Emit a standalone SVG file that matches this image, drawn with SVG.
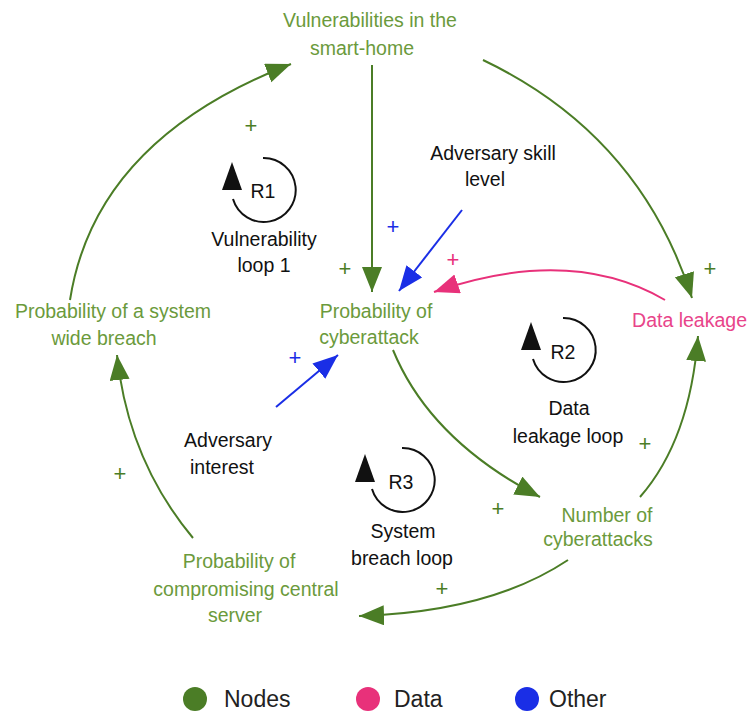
<svg xmlns="http://www.w3.org/2000/svg" width="750" height="715" viewBox="0 0 750 715">
  <style>
    text { font-family: "Liberation Sans", Arial, sans-serif; font-size: 19.5px; text-anchor: middle; }
    .node { fill: #6b9a3c; }
    .data { fill: #e8448a; text-anchor: end; }
    .lbl { fill: #111; }
    .g { fill: none; stroke: #4b7d26; stroke-width: 2; }
    .p { fill: none; stroke: #e8317a; stroke-width: 2; }
    .b { fill: none; stroke: #1a2ee6; stroke-width: 2; }
    .loop { fill: none; stroke: #111; stroke-width: 2; }
    .plus { font-size: 22px; }
    .pg { fill: #4b7d26; }
    .legend { font-size: 23px; text-anchor: start; fill: #222; }
  </style>
  <defs>
    <marker id="ag" markerUnits="userSpaceOnUse" markerWidth="28" markerHeight="22" refX="25" refY="10" orient="auto">
      <path d="M0,0 L25,10 L0,20 Z" fill="#4b7d26"/>
    </marker>
    <marker id="ap" markerUnits="userSpaceOnUse" markerWidth="28" markerHeight="22" refX="25" refY="10" orient="auto">
      <path d="M0,0 L25,10 L0,20 Z" fill="#e8317a"/>
    </marker>
    <marker id="ab" markerUnits="userSpaceOnUse" markerWidth="28" markerHeight="22" refX="25" refY="10" orient="auto">
      <path d="M0,0 L25,10 L0,20 Z" fill="#1a2ee6"/>
    </marker>
  </defs>

  <rect width="750" height="715" fill="#fff"/>

  <!-- connectors -->
  <g id="connectors">
    <path class="g" d="M372,65 L372,292" marker-end="url(#ag)"/>
    <path class="g" d="M483,60 Q640,135 692,298" marker-end="url(#ag)"/>
    <path class="b" d="M462,210 L399,291" marker-end="url(#ab)"/>
    <path class="p" d="M665,300 Q570,245 434,292" marker-end="url(#ap)"/>
    <path class="b" d="M276,407 L338,355" marker-end="url(#ab)"/>
    <path class="g" d="M393,350 Q430,440 540,497" marker-end="url(#ag)"/>
    <path class="g" d="M640,497 Q690,440 698,336" marker-end="url(#ag)"/>
    <path class="g" d="M568,560 Q490,612 359,616" marker-end="url(#ag)"/>
    <path class="g" d="M193,538 Q128,460 117,355" marker-end="url(#ag)"/>
    <path class="g" d="M70,300 Q95,140 291,64" marker-end="url(#ag)"/>
  </g>

  <!-- polarity signs -->
  <g id="signs">
    <text class="plus pg" x="251" y="133">+</text>
    <text class="plus pg" x="345" y="276">+</text>
    <text class="plus pg" x="710" y="276">+</text>
    <text class="plus pg" x="645" y="451">+</text>
    <text class="plus pg" x="498" y="516">+</text>
    <text class="plus pg" x="442" y="596">+</text>
    <text class="plus pg" x="120" y="481">+</text>
    <text class="plus" x="393" y="234" fill="#1a2ee6">+</text>
    <text class="plus" x="295" y="365" fill="#1a2ee6">+</text>
    <text class="plus" x="453" y="267" fill="#e8317a">+</text>
  </g>

  <!-- nodes -->
  <g id="vulnerabilities">
    <text class="node" x="370" y="27">Vulnerabilities in the</text>
    <text class="node" x="362" y="55">smart-home</text>
  </g>
  <g id="system-breach">
    <text class="node" x="113" y="318">Probability of a system</text>
    <text class="node" x="104" y="345">wide breach</text>
  </g>
  <g id="cyberattack">
    <text class="node" x="376" y="318">Probability of</text>
    <text class="node" x="369" y="344">cyberattack</text>
  </g>
  <g id="data-leakage">
    <text class="data" x="747" y="327">Data leakage</text>
  </g>
  <g id="num-attacks">
    <text class="node" x="607" y="522">Number of</text>
    <text class="node" x="598" y="546">cyberattacks</text>
  </g>
  <g id="central-server">
    <text class="node" x="239" y="568">Probability of</text>
    <text class="node" x="246" y="596">compromising central</text>
    <text class="node" x="235" y="622">server</text>
  </g>
  <g id="skill">
    <text class="lbl" x="493" y="160">Adversary skill</text>
    <text class="lbl" x="485" y="186">level</text>
  </g>
  <g id="interest">
    <text class="lbl" x="228" y="447">Adversary</text>
    <text class="lbl" x="222" y="474">interest</text>
  </g>

  <!-- loop markers -->
  <g id="loop-r1">
    <path class="loop" d="M263,158 A32,32 0 1 1 233,199"/>
    <path d="M232,162 L242,190 L222,190 Z" fill="#111"/>
    <text class="lbl" x="263" y="198">R1</text>
    <text class="lbl" x="264" y="246">Vulnerability</text>
    <text class="lbl" x="264" y="272">loop 1</text>
  </g>
  <g id="loop-r2">
    <path class="loop" d="M563,318 A32,32 0 1 1 533,359"/>
    <path d="M531,322 L541,350 L521,350 Z" fill="#111"/>
    <text class="lbl" x="563" y="359">R2</text>
    <text class="lbl" x="569" y="415">Data</text>
    <text class="lbl" x="568" y="443">leakage loop</text>
  </g>
  <g id="loop-r3">
    <path class="loop" d="M402,448 A32,32 0 1 1 372,489"/>
    <path d="M365,454 L375,482 L355,482 Z" fill="#111"/>
    <text class="lbl" x="401" y="489">R3</text>
    <text class="lbl" x="403" y="538">System</text>
    <text class="lbl" x="402" y="565">breach loop</text>
  </g>

  <!-- legend -->
  <g id="legend">
    <circle cx="195" cy="699" r="12" fill="#4b7d26"/>
    <text class="legend" x="224" y="707">Nodes</text>
    <circle cx="368" cy="699" r="12" fill="#e8317a"/>
    <text class="legend" x="394" y="707">Data</text>
    <circle cx="527" cy="699" r="12" fill="#1a2ee6"/>
    <text class="legend" x="549" y="707">Other</text>
  </g>
</svg>
